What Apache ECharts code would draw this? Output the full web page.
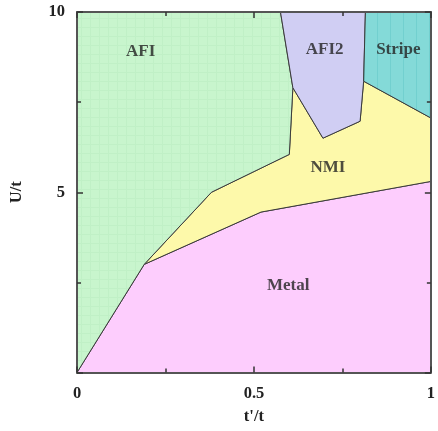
<!DOCTYPE html>
<html><head><meta charset="utf-8">
<script src="https://cdn.jsdelivr.net/npm/echarts@6/dist/echarts.min.js"></script>
<style>html,body{margin:0;padding:0;background:#fff}#c{width:438px;height:431px}</style>
</head><body><div id="c"></div>
<script>
// Phase boundaries (t'/t, U/t)
const afiRegion    = [[0,0],[0.19,3.0],[0.38,5.0],[0.6,6.05],[0.61,7.9],[0.575,10],[0,10]];
const afi2Region   = [[0.575,10],[0.61,7.9],[0.695,6.5],[0.80,6.97],[0.81,8.08],[0.815,10]];
const stripeRegion = [[0.815,10],[1,10],[1,7.06],[0.81,8.08]];
const nmiRegion    = [[0.19,3.0],[0.52,4.45],[1,5.3],[1,7.06],[0.81,8.08],[0.80,6.97],[0.695,6.5],[0.61,7.9],[0.6,6.05],[0.38,5.0]];
const metalRegion  = [[0,0],[1,0],[1,5.3],[0.52,4.45],[0.19,3.0]];

const regionNames  = ['AFI','AFI2','Stripe','NMI','Metal'];
const labelPoints  = [[0.18,8.9],[0.70,8.96],[0.908,8.96],[0.709,5.68],[0.597,2.40]];

const xTickLabels = {0:'0',0.5:'0.5',1:'1'};
const yTickLabels = {5:'5',10:'10'};

function makePattern(bg, line, w, h, vert, horiz){
  const c = document.createElement('canvas');
  c.width = w; c.height = h;
  const g = c.getContext('2d');
  g.fillStyle = bg; g.fillRect(0,0,w,h);
  g.fillStyle = line;
  if (vert) g.fillRect(0,0,1,h);
  if (horiz) g.fillRect(0,0,w,1);
  return {image:c, repeat:'repeat'};
}

const fills = {
  AFI: makePattern('#c8f5cd','#c0f0c6',9,9,true,true),
  AFI2:'#d0cef3',
  Stripe: makePattern('#84dad8','#72d0cf',13,13,true,false),
  NMI:'#fdf9aa',
  Metal:'#fdcdfd'
};
const regions = [['Metal',metalRegion],['NMI',nmiRegion],['AFI',afiRegion],['AFI2',afi2Region],['Stripe',stripeRegion]];

const font = 'Liberation Serif';
function polySeries(name, pts){
  return {
    type:'custom', name, z:2, silent:true,
    data: pts,
    renderItem(params, api){
      if (params.dataIndex !== 0) return null;
      const points = pts.map(p => api.coord(p));
      return {type:'polygon', shape:{points}, style:{fill:fills[name], stroke:'#3a3a3a', lineWidth:1}};
    }
  };
}

const axisCommon = {
  axisLine:{show:true, onZero:false, lineStyle:{color:'#555', width:2}},
  axisTick:{show:true, inside:true, length:6, lineStyle:{color:'#333', width:1.5}},
  minorTick:{show:true, splitNumber:2, length:4, lineStyle:{color:'#333', width:1.5}},
  splitLine:{show:false}, minorSplitLine:{show:false}, z:10
};
const txt = {fontFamily:font, fontWeight:'bold', fontSize:16.5, color:'#222'};

const chart = echarts.init(document.getElementById('c'));
chart.setOption({
  animation:false,
  grid:{left:74, right:3, top:12, bottom:58.5},
  xAxis:[
    Object.assign({type:'value', min:0, max:1, interval:0.5, position:'bottom',
      name:"t'/t", nameLocation:'middle', nameGap:36,
      nameTextStyle:txt,
      axisLabel:Object.assign({margin:13,
        formatter:v => xTickLabels[v] !== undefined ? xTickLabels[v] : ''}, txt)}, axisCommon),
    Object.assign({type:'value', min:0, max:1, interval:0.5, position:'top', axisLabel:{show:false}}, axisCommon)
  ],
  yAxis:[
    Object.assign({type:'value', min:0, max:10, interval:5, position:'left',
      name:'U/t', nameLocation:'middle', nameGap:52,
      nameTextStyle:txt,
      axisLabel:Object.assign({margin:12,
        formatter:v => yTickLabels[v] !== undefined ? yTickLabels[v] : ''}, txt)}, axisCommon),
    Object.assign({type:'value', min:0, max:10, interval:5, position:'right', axisLabel:{show:false}}, axisCommon)
  ],
  series: regions.map(r => polySeries(r[0], r[1])).concat([{
    type:'scatter', z:5, silent:true, symbolSize:0,
    data: labelPoints.map((p,i) => ({value:p, name:regionNames[i]})),
    label:Object.assign({show:true, position:'inside', formatter:'{b}'}, txt, {fontSize:17})
  }])
});
</script></body></html>
